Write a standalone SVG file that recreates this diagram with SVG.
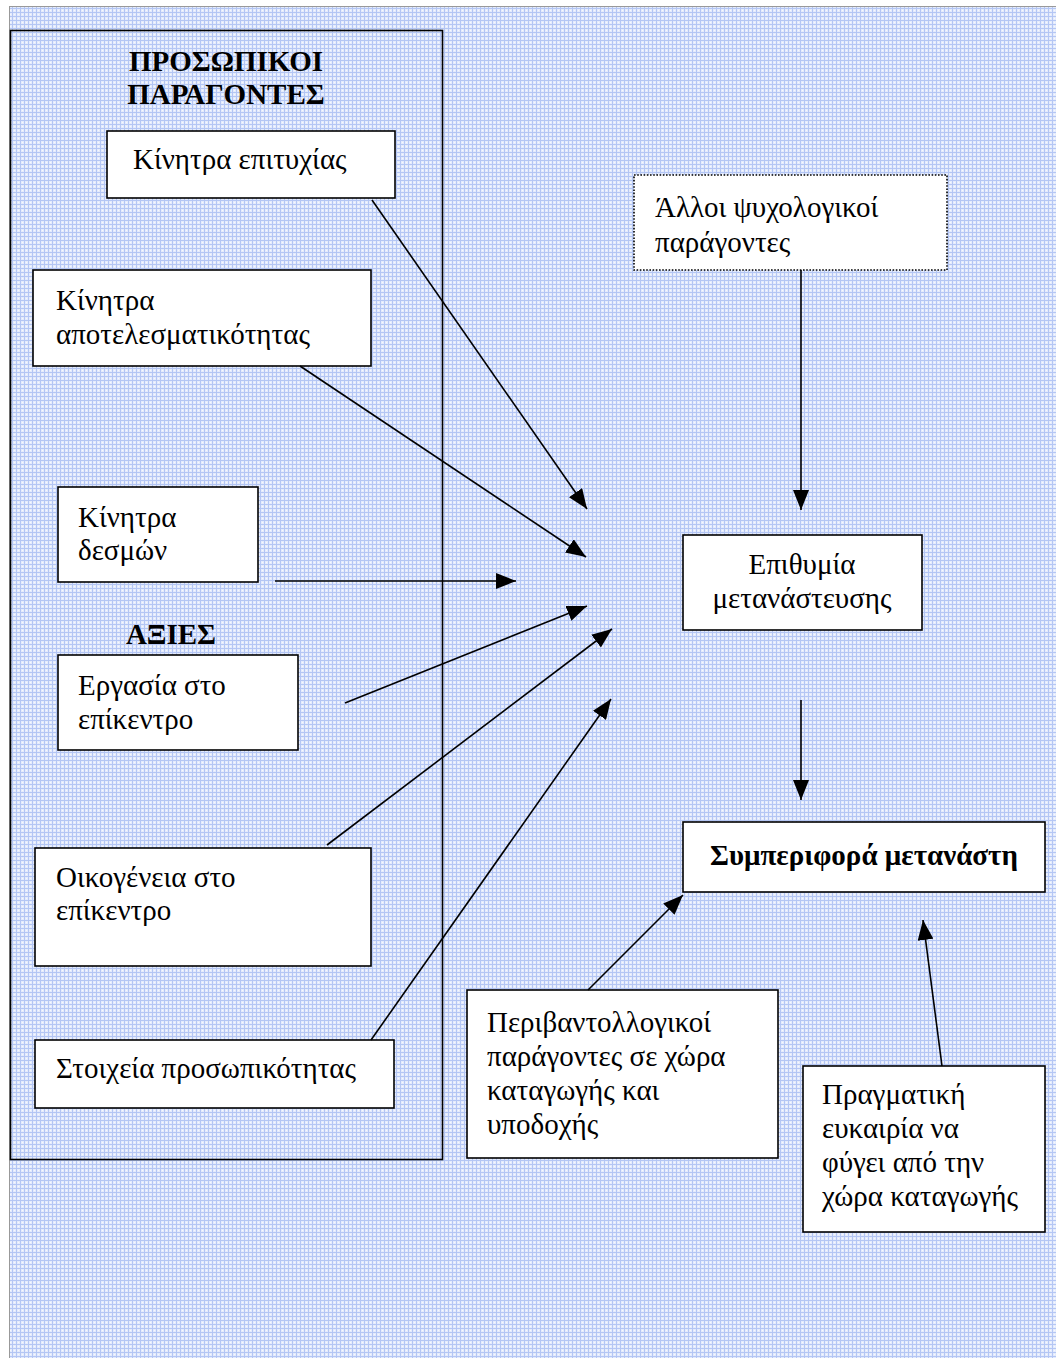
<svg xmlns="http://www.w3.org/2000/svg" width="1056" height="1358" viewBox="0 0 1056 1358">
<style>
.box{fill:#fff;stroke:#000;stroke-width:1.6}
.t{font-family:"Liberation Serif","Times New Roman",serif;font-size:29px;fill:#000}
.b{font-weight:bold}
.c{stroke:#000;stroke-width:1.6;fill:none;marker-end:url(#ah)}
</style>
<defs>
<pattern id="grid" width="4" height="4" patternUnits="userSpaceOnUse">
<rect width="4" height="4" fill="#e4ebfc"/>
<rect width="4" height="1" fill="#b4c6f4"/>
<rect width="1" height="4" fill="#b4c6f4"/>
<rect x="2" y="2" width="1" height="1" fill="#f6f8fe"/>
</pattern>
<marker id="ah" markerWidth="20" markerHeight="16" refX="20" refY="8" orient="auto" markerUnits="userSpaceOnUse">
<path d="M0,0 L20,8 L0,16 Z" fill="#000"/>
</marker>
</defs>
<rect width="1056" height="1358" fill="#fff"/>
<rect x="9" y="6" width="1047" height="1352" fill="url(#grid)"/>
<line x1="9.5" y1="6" x2="9.5" y2="1358" stroke="#999" stroke-width="1"/>
<line x1="9" y1="6.5" x2="1056" y2="6.5" stroke="#999" stroke-width="1"/>

<g id="personal-factors">
<rect x="10.5" y="30.5" width="432" height="1129" fill="none" stroke="#000" stroke-width="1.6"/>
<text class="t b" x="226" y="71" text-anchor="middle" font-size="31">ΠΡΟΣΩΠΙΚΟΙ</text>
<text class="t b" x="226" y="104" text-anchor="middle" font-size="31">ΠΑΡΑΓΟΝΤΕΣ</text>
</g>

<g id="values-label">
<text class="t b" x="171" y="644" text-anchor="middle">ΑΞΙΕΣ</text>
</g>

<g id="n-success">
<rect class="box" x="107" y="131" width="288" height="67"/>
<text class="t" x="133" y="169">Κίνητρα επιτυχίας</text>
</g>
<g id="n-efficacy">
<rect class="box" x="33" y="270" width="338" height="96"/>
<text class="t" x="56" y="310">Κίνητρα</text>
<text class="t" x="56" y="344">αποτελεσματικότητας</text>
</g>
<g id="n-bonds">
<rect class="box" x="58" y="487" width="200" height="95"/>
<text class="t" x="78" y="527">Κίνητρα</text>
<text class="t" x="78" y="560">δεσμών</text>
</g>
<g id="n-work">
<rect class="box" x="58" y="655" width="240" height="95"/>
<text class="t" x="78" y="695">Εργασία στο</text>
<text class="t" x="78" y="729">επίκεντρο</text>
</g>
<g id="n-family">
<rect class="box" x="35" y="848" width="336" height="118"/>
<text class="t" x="56" y="887">Οικογένεια στο</text>
<text class="t" x="56" y="920">επίκεντρο</text>
</g>
<g id="n-personality">
<rect class="box" x="35" y="1040" width="359" height="68"/>
<text class="t" x="56" y="1078">Στοιχεία προσωπικότητας</text>
</g>
<g id="n-other">
<rect x="634" y="175" width="313" height="95" fill="#fff" stroke="#000" stroke-width="1.6" stroke-dasharray="1.6 1.6"/>
<text class="t" x="655" y="217">Άλλοι ψυχολογικοί</text>
<text class="t" x="655" y="252">παράγοντες</text>
</g>
<g id="n-desire">
<rect class="box" x="683" y="535" width="239" height="95"/>
<text class="t" x="802" y="574" text-anchor="middle">Επιθυμία</text>
<text class="t" x="802" y="608" text-anchor="middle">μετανάστευσης</text>
</g>
<g id="n-behaviour">
<rect class="box" x="683" y="822" width="362" height="70"/>
<text class="t b" x="864" y="865" text-anchor="middle">Συμπεριφορά μετανάστη</text>
</g>
<g id="n-environment">
<rect class="box" x="467" y="990" width="311" height="168"/>
<text class="t" x="487" y="1032">Περιβαντολλογικοί</text>
<text class="t" x="487" y="1066">παράγοντες σε χώρα</text>
<text class="t" x="487" y="1100">καταγωγής και</text>
<text class="t" x="487" y="1134">υποδοχής</text>
</g>
<g id="n-opportunity">
<rect class="box" x="803" y="1066" width="242" height="166"/>
<text class="t" x="822" y="1104">Πραγματική</text>
<text class="t" x="822" y="1138">ευκαιρία να</text>
<text class="t" x="822" y="1172">φύγει από την</text>
<text class="t" x="822" y="1206">χώρα καταγωγής</text>
</g>

<g id="connectors">
<line class="c" x1="372" y1="200" x2="587" y2="509"/>
<line class="c" x1="300" y1="366" x2="586" y2="557"/>
<line class="c" x1="275" y1="581" x2="516" y2="581"/>
<line class="c" x1="345" y1="703" x2="587" y2="606"/>
<line class="c" x1="327" y1="845" x2="612" y2="629"/>
<line class="c" x1="371" y1="1040" x2="611" y2="699"/>
<line class="c" x1="801" y1="270" x2="801" y2="510"/>
<line class="c" x1="801" y1="700" x2="801" y2="800"/>
<line class="c" x1="588" y1="990" x2="683" y2="895"/>
<line class="c" x1="942" y1="1066" x2="923" y2="920"/>
</g>
</svg>
